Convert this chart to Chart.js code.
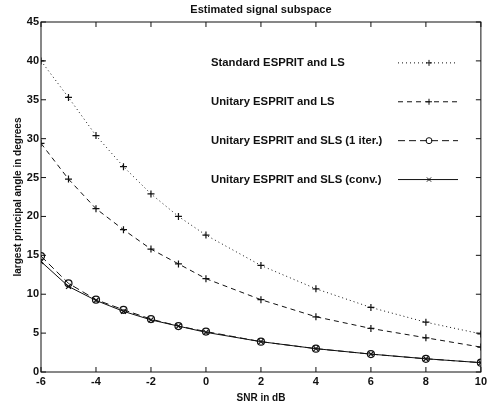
<!DOCTYPE html>
<html>
<head>
<meta charset="utf-8">
<script src="https://cdn.jsdelivr.net/npm/chart.js@4/dist/chart.umd.min.js"></script>
<style>
  html, body { margin: 0; padding: 0; background: #fff; }
  #wrap { width: 490px; height: 404px; }
</style>
</head>
<body>
<div id="wrap"><canvas id="chart"></canvas></div>
<script>
// SNR values (dB) on the x axis
const snr = [-6, -5, -4, -3, -2, -1, 0, 2, 4, 6, 8, 10];

// largest principal angle in degrees
const standardLS = [40.0, 35.3, 30.4, 26.4, 22.9, 20.0, 17.6, 13.7, 10.7, 8.3, 6.4, 4.9];
const unitaryLS = [29.4, 24.8, 21.0, 18.3, 15.8, 13.9, 12.0, 9.3, 7.1, 5.6, 4.4, 3.2];
const unitarySLS1 = [14.9, 11.4, 9.3, 8.0, 6.8, 5.9, 5.2, 3.9, 3.0, 2.3, 1.7, 1.2];
const unitarySLSconv = [14.2, 11.0, 9.2, 7.8, 6.7, 5.9, 5.1, 3.9, 3.0, 2.3, 1.7, 1.2];

const seriesNames = [
    'Standard ESPRIT and LS',
    'Unitary ESPRIT and LS',
    'Unitary ESPRIT and SLS (1 iter.)',
    'Unitary ESPRIT and SLS (conv.)'
];
const xTicks = [-6, -4, -2, 0, 2, 4, 6, 8, 10];
const yTicks = [0, 5, 10, 15, 20, 25, 30, 35, 40, 45];
const chartTitle = 'Estimated signal subspace';

const FONT = '"Liberation Sans", Arial, sans-serif';

function toPoints(values) {
    return snr.map((x, i) => ({ x: x, y: values[i] }));
}

function makeSet(label, values, dash, marker) {
    return {
        label: label,
        data: toPoints(values),
        borderColor: '#111',
        borderWidth: 1,
        borderDash: dash,
        pointStyle: marker,
        pointRadius: 3.5,
        pointBorderColor: '#111',
        pointBackgroundColor: 'rgba(0,0,0,0)',
        pointBorderWidth: 1.2,
        fill: false,
        tension: 0
    };
}

const datasets = [
    makeSet(seriesNames[0], standardLS, [1, 3], 'cross'),
    makeSet(seriesNames[1], unitaryLS, [5, 4], 'cross'),
    makeSet(seriesNames[2], unitarySLS1, [7, 4], 'circle'),
    makeSet(seriesNames[3], unitarySLSconv, [], 'crossRot')
];

// MATLAB-style box, inward ticks, title over the plot and an in-plot legend
const boxPlugin = {
    id: 'boxPlugin',
    afterDraw(chart) {
        const ctx = chart.ctx;
        const a = chart.chartArea;
        const xs = chart.scales.x;
        const ys = chart.scales.y;
        ctx.save();
        ctx.strokeStyle = '#111';
        ctx.lineWidth = 1;
        ctx.setLineDash([]);
        ctx.strokeRect(a.left, a.top, a.right - a.left, a.bottom - a.top);
        ctx.beginPath();
        xTicks.forEach(v => {
            const px = xs.getPixelForValue(v);
            ctx.moveTo(px, a.bottom); ctx.lineTo(px, a.bottom - 5);
            ctx.moveTo(px, a.top); ctx.lineTo(px, a.top + 5);
        });
        yTicks.forEach(v => {
            const py = ys.getPixelForValue(v);
            ctx.moveTo(a.left, py); ctx.lineTo(a.left + 5, py);
            ctx.moveTo(a.right, py); ctx.lineTo(a.right - 5, py);
        });
        ctx.stroke();

        ctx.fillStyle = '#111';
        ctx.font = 'bold 11px ' + FONT;
        ctx.textAlign = 'center';
        ctx.textBaseline = 'middle';
        ctx.fillText(chartTitle, (a.left + a.right) / 2, 10);

        // legend rows sit just under the 40, 35, 30, 25 ticks
        const rows = [40, 35, 30, 25];
        ctx.font = 'bold 11.3px ' + FONT;
        ctx.textAlign = 'left';
        chart.data.datasets.forEach((ds, i) => {
            const y = ys.getPixelForValue(rows[i]) + 2;
            ctx.fillStyle = '#111';
            ctx.fillText(ds.label, 211, y);
            ctx.beginPath();
            ctx.setLineDash(ds.borderDash);
            ctx.moveTo(398, y);
            ctx.lineTo(458, y);
            ctx.stroke();
            ctx.setLineDash([]);
            ctx.fillStyle = 'rgba(0,0,0,0)';
            Chart.helpers.drawPoint(ctx, {
                pointStyle: ds.pointStyle,
                radius: 3,
                borderWidth: 1.2
            }, 429, y);
        });
        ctx.restore();
    }
};

new Chart(document.getElementById('chart'), {
    type: 'line',
    data: { datasets: datasets },
    options: {
        responsive: true,
        maintainAspectRatio: false,
        animation: false,
        layout: { padding: { left: 0, right: 5, top: 22, bottom: 0 } },
        plugins: {
            legend: { display: false },
            tooltip: { enabled: false },
            title: { display: false }
        },
        scales: {
            x: {
                type: 'linear',
                min: -6,
                max: 10,
                grid: { display: false, drawTicks: false },
                border: { display: false },
                afterBuildTicks(scale) {
                    scale.ticks = xTicks.map(v => ({ value: v }));
                },
                afterFit(scale) { scale.height = 32; },
                ticks: {
                    color: '#111',
                    padding: 3,
                    font: { family: FONT, size: 11, weight: 'bold' },
                    maxRotation: 0
                },
                title: {
                    display: true,
                    text: 'SNR in dB',
                    color: '#111',
                    font: { family: FONT, size: 10, weight: 'bold' },
                    padding: { top: 0, bottom: 0 }
                }
            },
            y: {
                min: 0,
                max: 45,
                grid: { display: false, drawTicks: false },
                border: { display: false },
                afterBuildTicks(scale) {
                    scale.ticks = yTicks.map(v => ({ value: v }));
                },
                afterFit(scale) { scale.width = 41; },
                ticks: {
                    color: '#111',
                    padding: 2,
                    font: { family: FONT, size: 11, weight: 'bold' }
                },
                title: {
                    display: true,
                    text: 'largest principal angle in degrees',
                    color: '#111',
                    font: { family: FONT, size: 10, weight: 'bold' },
                    padding: { top: 12, bottom: 0 }
                }
            }
        }
    },
    plugins: [boxPlugin]
});
</script>
</body>
</html>
